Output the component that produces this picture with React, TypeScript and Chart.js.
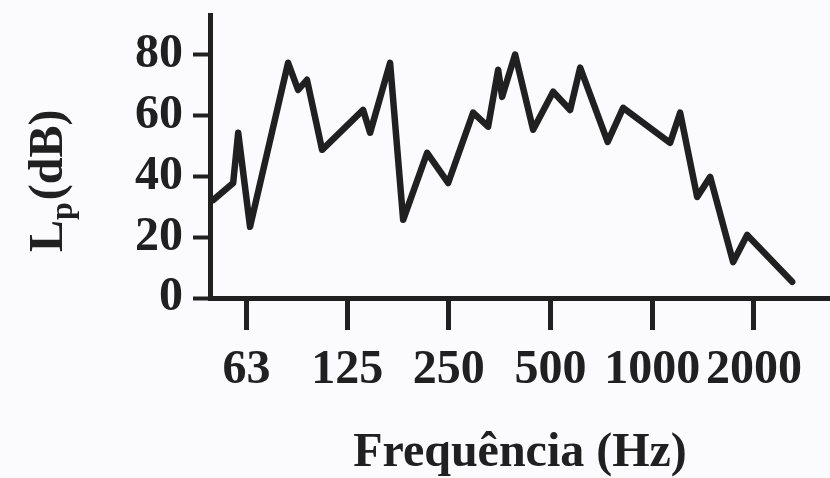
import { useEffect, useRef } from "react";
import { Chart, registerables } from "chart.js";

Chart.register(...registerables);

// Frequency (Hz) of each vertex of the spectrum line
const FREQ_HZ = [
  50.2, 57.5, 59.5, 64.5, 83.6, 89.5, 95.1, 105.4, 139.4, 146.2,
  167.5, 183.1, 215.6, 248.8, 295, 326.7, 349.8, 359.4, 392.7, 444,
  508.9, 571.3, 611.7, 737.8, 819.9, 1129.5, 1209, 1357.7, 1483.6, 1735,
  1908.8, 2593.8,
];
// Sound pressure level Lp (dB) at each vertex
const LEVEL_DB = [
  32.2, 37.8, 54.3, 23.4, 77.3, 68.4, 71.7, 48.7, 61.8, 54.3,
  77.3, 25.7, 47.7, 37.8, 60.9, 56.3, 75, 66.1, 80, 55.3,
  67.8, 61.8, 75.7, 51.3, 62.5, 51, 60.9, 33.2, 39.8, 11.8,
  20.7, 5.3,
];
const X_TICKS = [63, 125, 250, 500, 1000, 2000];
const Y_TICKS = [0, 20, 40, 60, 80];
const X_TITLE = "Frequência (Hz)";
const Y_TITLE_MAIN = "L";
const Y_TITLE_SUB = "p";
const Y_TITLE_UNIT = "(dB)";

const INK = "#202020";
const FAMILY = '"Liberation Serif", "Times New Roman", serif';

const yTitlePlugin = {
  id: "yTitleSub",
  afterDraw(chart: any) {
    const ctx = chart.ctx as CanvasRenderingContext2D;
    ctx.save();
    ctx.fillStyle = INK;
    ctx.translate(62, 252);
    ctx.rotate(-Math.PI / 2);
    ctx.textBaseline = "alphabetic";
    ctx.textAlign = "left";
    ctx.font = `bold 48px ${FAMILY}`;
    ctx.fillText(Y_TITLE_MAIN, 0, 0);
    let w = ctx.measureText(Y_TITLE_MAIN).width;
    ctx.font = `bold 32px ${FAMILY}`;
    ctx.fillText(Y_TITLE_SUB, w, 10);
    w += ctx.measureText(Y_TITLE_SUB).width + 2;
    ctx.font = `bold 48px ${FAMILY}`;
    ctx.fillText(Y_TITLE_UNIT, w, 0);
    ctx.restore();
  },
};

export default function App() {
  const ref = useRef<HTMLCanvasElement | null>(null);

  useEffect(() => {
    if (!ref.current) return;
    const font = { family: FAMILY, size: 48, weight: "bold" as const, lineHeight: 1.2 };
    const chart = new Chart(ref.current, {
      type: "line",
      data: {
        datasets: [
          {
            data: FREQ_HZ.map((f, i) => ({ x: f, y: LEVEL_DB[i] })),
            borderColor: INK,
            borderWidth: 6.5,
            borderJoinStyle: "round",
            borderCapStyle: "round",
            pointRadius: 0,
            tension: 0,
            fill: false,
          },
        ],
      },
      options: {
        responsive: false,
        animation: false,
        events: [],
        layout: { padding: { top: 15, right: 0, bottom: 0, left: 0 } },
        plugins: { legend: { display: false }, tooltip: { enabled: false } },
        scales: {
          x: {
            type: "logarithmic",
            min: 49.1,
            max: 3357,
            afterBuildTicks: (s: any) => {
              s.ticks = X_TICKS.map((v) => ({ value: v }));
            },
            afterFit: (s: any) => {
              s.height = 180;
              s.paddingLeft = 0;
              s.paddingRight = 0;
            },
            grid: {
              drawOnChartArea: false,
              drawTicks: true,
              tickLength: 32,
              tickWidth: 5,
              tickColor: INK,
            },
            border: { display: true, color: INK, width: 5 },
            ticks: {
              color: INK,
              font,
              padding: 12,
              autoSkip: false,
              maxRotation: 0,
              callback: (v: any) => String(v),
            },
            title: {
              display: true,
              text: X_TITLE,
              color: INK,
              font,
              padding: { top: 0, bottom: -4 },
            },
          },
          y: {
            type: "linear",
            min: 0,
            max: 93,
            afterBuildTicks: (s: any) => {
              s.ticks = Y_TICKS.map((v) => ({ value: v }));
            },
            afterFit: (s: any) => {
              s.width = 210;
              s.paddingTop = 0;
              s.paddingBottom = 0;
            },
            grid: {
              drawOnChartArea: false,
              drawTicks: true,
              tickLength: 17,
              tickWidth: 4,
              tickColor: INK,
            },
            border: { display: true, color: INK, width: 5 },
            ticks: { color: INK, font, padding: 10 },
          },
        },
      },
      plugins: [yTitlePlugin],
    });
    return () => chart.destroy();
  }, []);

  return (
    <div
      style={{
        position: "absolute",
        left: 0,
        top: 0,
        width: 830,
        height: 478,
        background: "#fbfbfd",
        overflow: "hidden",
      }}
    >
      <canvas ref={ref} width={830} height={478} style={{ width: 830, height: 478, display: "block" }} />
    </div>
  );
}
